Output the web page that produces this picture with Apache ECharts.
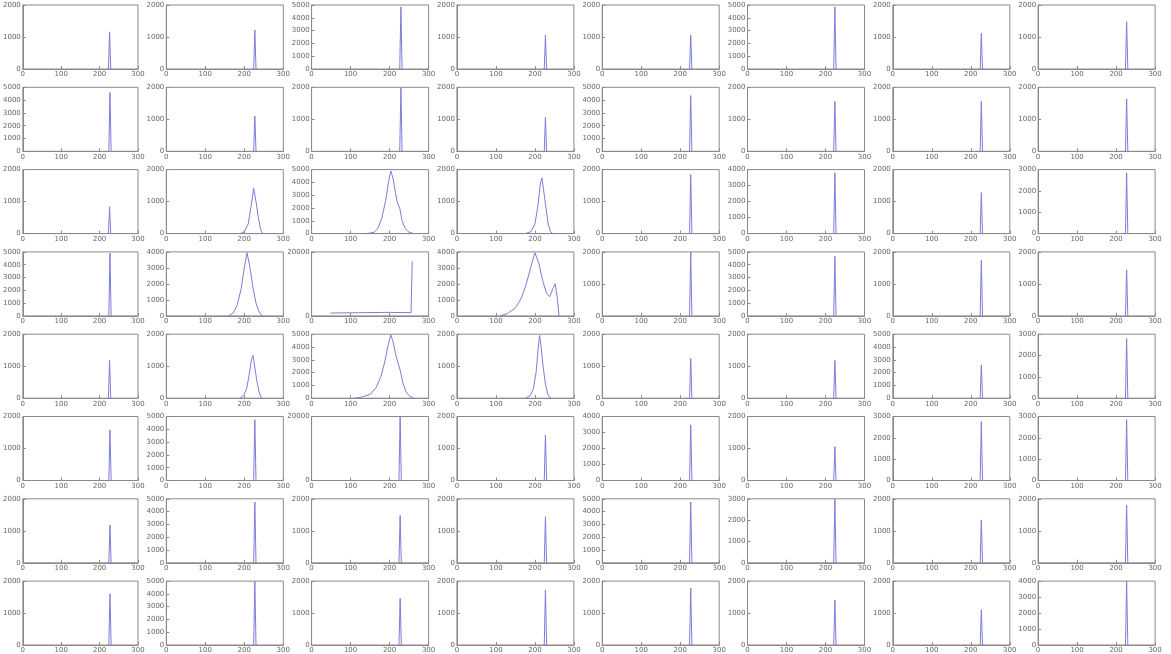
<!DOCTYPE html>
<html>
<head>
<meta charset="utf-8">
<script src="https://cdn.jsdelivr.net/npm/echarts@6/dist/echarts.min.js"></script>
<style>
html,body{margin:0;padding:0;background:#fff;}
#chart{width:1171px;height:654px;}
</style>
</head>
<body>
<div id="chart"></div>
<script>
// x axis tick values (shared by all 64 panels)
const xTicks = [0, 100, 200, 300];

// y axis maximum and tick step for each of the 64 panels (row by row)
const yMax = [
  2000, 2000, 5000, 2000, 2000, 5000, 2000, 2000,
  5000, 2000, 2000, 2000, 5000, 2000, 2000, 2000,
  2000, 2000, 5000, 2000, 2000, 4000, 2000, 3000,
  5000, 4000, 20000, 4000, 2000, 5000, 2000, 2000,
  2000, 2000, 5000, 2000, 2000, 2000, 5000, 3000,
  2000, 5000, 20000, 2000, 4000, 2000, 3000, 3000,
  2000, 5000, 2000, 2000, 5000, 3000, 2000, 2000,
  2000, 5000, 2000, 2000, 2000, 2000, 2000, 4000
];
const yStep = [
  1000, 1000, 1000, 1000, 1000, 1000, 1000, 1000,
  1000, 1000, 1000, 1000, 1000, 1000, 1000, 1000,
  1000, 1000, 1000, 1000, 1000, 1000, 1000, 1000,
  1000, 1000, 20000, 1000, 1000, 1000, 1000, 1000,
  1000, 1000, 1000, 1000, 1000, 1000, 1000, 1000,
  1000, 1000, 20000, 1000, 1000, 1000, 1000, 1000,
  1000, 1000, 1000, 1000, 1000, 1000, 1000, 1000,
  1000, 1000, 1000, 1000, 1000, 1000, 1000, 1000
];

// histogram curves, one list of [value, count] points per panel
const row1 = [
  [[223,0],[226,1160],[229,0]],
  [[224,0],[227,1220],[230,0]],
  [[226,0],[229,4850],[232,0]],
  [[224,0],[227,1060],[230,0]],
  [[224,0],[227,1060],[230,0]],
  [[221,0],[224,4850],[227,0]],
  [[224,0],[227,1120],[230,0]],
  [[224,0],[227,1480],[230,0]]
];
const row2 = [
  [[224,0],[227,4600],[230,0]],
  [[224,0],[227,1100],[230,0]],
  [[226,0],[229,1990],[232,0]],
  [[224,0],[227,1060],[230,0]],
  [[224,0],[227,4350],[230,0]],
  [[221,0],[224,1560],[227,0]],
  [[224,0],[227,1560],[230,0]],
  [[224,0],[227,1640],[230,0]]
];
const row3 = [
  [[223,0],[226,840],[229,0]],
  [[190,0],[200,60],[210,300],[218,900],[224,1420],[230,1000],[236,500],[242,120],[248,0]],
  [[140,0],[160,100],[170,400],[180,1200],[190,2600],[197,4000],[203,4900],[209,4300],[215,3200],[220,2400],[226,2000],[232,1000],[240,400],[250,100],[262,0]],
  [[175,0],[190,60],[200,300],[208,900],[214,1560],[218,1740],[222,1400],[228,840],[234,300],[240,60],[246,0]],
  [[224,0],[227,1840],[230,0]],
  [[221,0],[224,3800],[227,0]],
  [[224,0],[227,1280],[230,0]],
  [[224,0],[227,2850],[230,0]]
];
const row4 = [
  [[224,0],[227,4900],[230,0]],
  [[160,0],[172,200],[182,700],[192,1700],[200,3000],[207,3950],[214,3100],[222,1800],[230,800],[238,250],[246,0]],
  [[48,900],[120,1000],[200,1100],[255,1000],[258,17000]],
  [[110,0],[130,150],[150,500],[165,1100],[178,2000],[190,3100],[200,3950],[210,3300],[220,2200],[230,1400],[238,1200],[246,1700],[252,2000],[257,1200],[262,0]],
  [[224,0],[227,1990],[230,0]],
  [[221,0],[224,4650],[227,0]],
  [[224,0],[227,1740],[230,0]],
  [[224,0],[227,1440],[230,0]]
];
const row5 = [
  [[223,0],[226,1180],[229,0]],
  [[188,0],[198,80],[206,300],[213,760],[218,1200],[222,1340],[226,1040],[232,560],[238,180],[244,0]],
  [[110,0],[130,100],[150,300],[165,800],[178,1700],[188,2900],[196,4100],[203,4950],[209,4400],[215,3500],[221,2800],[227,2200],[234,1200],[242,500],[252,150],[262,0]],
  [[176,0],[188,80],[196,300],[203,800],[208,1500],[212,1960],[216,1600],[221,1000],[227,440],[233,120],[240,0]],
  [[224,0],[227,1240],[230,0]],
  [[221,0],[224,1180],[227,0]],
  [[224,0],[227,2600],[230,0]],
  [[224,0],[227,2790],[230,0]]
];
const row6 = [
  [[224,0],[227,1580],[230,0]],
  [[224,0],[227,4750],[230,0]],
  [[224,0],[227,19900],[230,0]],
  [[224,0],[227,1420],[230,0]],
  [[224,0],[227,3480],[230,0]],
  [[221,0],[224,1060],[227,0]],
  [[224,0],[227,2760],[230,0]],
  [[224,0],[227,2850],[230,0]]
];
const row7 = [
  [[224,0],[227,1180],[230,0]],
  [[224,0],[227,4750],[230,0]],
  [[224,0],[227,1480],[230,0]],
  [[224,0],[227,1440],[230,0]],
  [[224,0],[227,4750],[230,0]],
  [[221,0],[224,2990],[227,0]],
  [[224,0],[227,1340],[230,0]],
  [[224,0],[227,1800],[230,0]]
];
const row8 = [
  [[224,0],[227,1600],[230,0]],
  [[224,0],[227,4980],[230,0]],
  [[224,0],[227,1460],[230,0]],
  [[224,0],[227,1720],[230,0]],
  [[224,0],[227,1780],[230,0]],
  [[221,0],[224,1400],[227,0]],
  [[224,0],[227,1100],[230,0]],
  [[224,0],[227,3980],[230,0]]
];
const rows = [row1, row2, row3, row4, row5, row6, row7, row8];

const chart = echarts.init(document.getElementById('chart'), null, {renderer: 'canvas'});
const grids = [], xAxes = [], yAxes = [], series = [];
const frame = '#8a8a8a';
const lbl = {fontSize: 7, color: '#666', fontFamily: 'DejaVu Sans', formatter: v => String(v)};
for (let r = 0; r < 8; r++) {
  for (let c = 0; c < 8; c++) {
    const i = r * 8 + c;
    grids.push({
      left: 21 + 145.3 * c, top: 5 + 82.3 * r, width: 117, height: 64,
      show: true, borderColor: frame, borderWidth: 1, backgroundColor: '#fff',
      containLabel: false
    });
    xAxes.push({
      type: 'value', gridIndex: i,
      min: xTicks[0], max: xTicks[xTicks.length - 1], interval: xTicks[1] - xTicks[0],
      axisLine: {show: true, lineStyle: {color: frame}},
      axisTick: {show: true, inside: true, length: 3, lineStyle: {color: frame}},
      axisLabel: Object.assign({margin: 2, showMinLabel: true, showMaxLabel: true}, lbl),
      splitLine: {show: false}
    });
    yAxes.push({
      type: 'value', gridIndex: i, min: 0, max: yMax[i], interval: yStep[i],
      axisLine: {show: true, lineStyle: {color: frame}},
      axisTick: {show: true, inside: true, length: 3, lineStyle: {color: frame}},
      axisLabel: Object.assign({margin: 2, showMinLabel: true, showMaxLabel: true}, lbl),
      splitLine: {show: false}
    });
    series.push({
      type: 'line', xAxisIndex: i, yAxisIndex: i,
      data: rows[r][c], showSymbol: false, symbol: 'none',
      lineStyle: {color: '#7c7cda', width: 1},
      silent: true, animation: false, clip: true
    });
  }
}
chart.setOption({
  backgroundColor: '#fff',
  animation: false,
  grid: grids, xAxis: xAxes, yAxis: yAxes, series: series
});
</script>
</body>
</html>
